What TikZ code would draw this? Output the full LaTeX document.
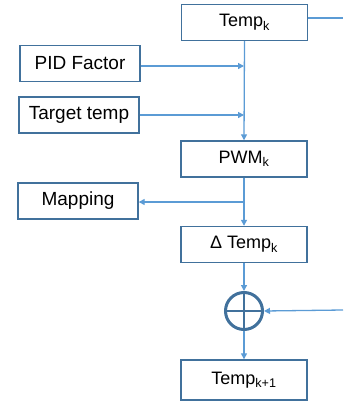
\documentclass[tikz,border=0pt]{standalone}
\usepackage{fontspec}
\setmainfont{Liberation Sans}
\usetikzlibrary{arrows.meta}
\definecolor{boxblue}{HTML}{41719C}
\definecolor{lineblue}{HTML}{5B9BD5}
\tikzset{
  block/.style={draw=boxblue, line width=1.4pt, fill=white, minimum width=126pt, minimum height=36pt, inner sep=0pt, font=\fontsize{18}{20}\selectfont},
  inblock/.style={block, minimum width=120pt, font=\fontsize{19}{21}\selectfont},
  flow/.style={draw=lineblue, line width=1.3pt, -{Triangle[length=6pt,width=6pt]}},
  plain/.style={draw=lineblue, line width=1.3pt},
}
\begin{document}
\begin{tikzpicture}[x=1pt,y=-1pt]
	\useasboundingbox (0,0) rectangle (343,407);
	% boxes
	\node[block] (tempk) at (244.5,22.5) {Temp\textsubscript{k}};
	\node[inblock] (pid) at (80,63.5) {PID Factor};
	\node[inblock] (target) at (79,115) {Target temp};
	\node[block] (pwm) at (244,159) {PWM\textsubscript{k}};
	\node[inblock] (map) at (78,201) {Mapping};
	\node[block] (dtemp) at (244,244.5) {Δ Temp\textsubscript{k}};
	\node[draw=boxblue, line width=3pt, circle, minimum size=37pt, inner sep=0pt] (sum) at (244,311) {};
	\draw[boxblue, line width=2.5pt] (sum.north) -- (sum.south) (sum.west) -- (sum.east);
	\node[block, minimum height=40pt] (next) at (244,380) {Temp\textsubscript{k+1}};
	% connectors
	\coordinate (fbtop) at (343,18);
	\coordinate (fbbot) at (343,310);
	\coordinate (split) at (244,202);
	\draw[flow] (tempk.south) -- (pwm.north);
	\draw[flow] (pid.east |- 0,66) -- (244,66);
	\draw[flow] (target.east) -- (target.east -| pwm.north);
	\draw[flow] (pwm.south) -- (dtemp.north);
	\draw[flow] (split) -- (map.east |- split);
	\draw[flow] (dtemp.south) -- (sum.north);
	\draw[flow] (sum.south) -- (next.north);
	\draw[plain] (tempk.east |- fbtop) -- (fbtop);
	\draw[flow] (fbbot) -- (sum.east);
\end{tikzpicture}
\end{document}
